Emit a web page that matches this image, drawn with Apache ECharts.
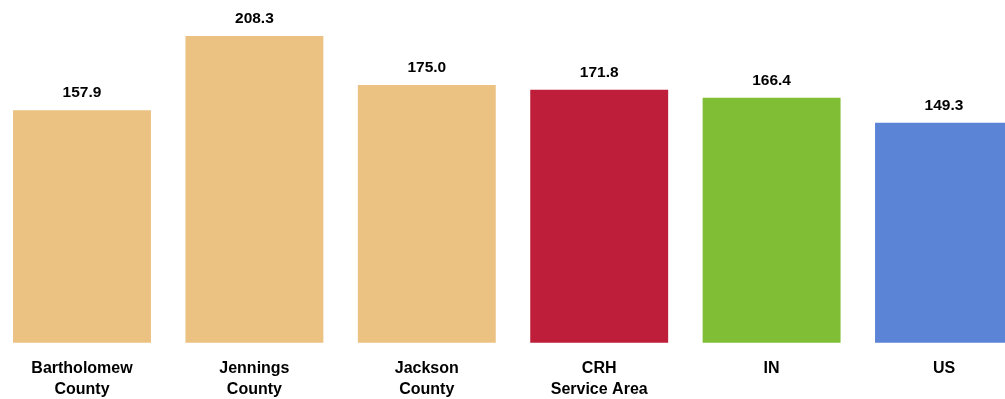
<!DOCTYPE html>
<html><head><meta charset="utf-8">
<script src="https://cdn.jsdelivr.net/npm/echarts@6/dist/echarts.min.js"></script>
<style>html,body{margin:0;padding:0;background:#fff}#c{width:1005px;height:399px}</style>
</head><body><div id="c"></div>
<script>
const categories = ["Bartholomew\nCounty", "Jennings\nCounty", "Jackson\nCounty", "CRH\nService Area", "IN", "US"];
const values = [157.9, 208.3, 175.0, 171.8, 166.4, 149.3];
const barColors = ["#ECC283", "#ECC283", "#ECC283", "#BE1E3A", "#80BE35", "#5B84D6"];
const FONT = "'Liberation Sans Narrow', 'Arial Narrow', 'Liberation Sans', Arial, sans-serif";
const chart = echarts.init(document.getElementById('c'));
chart.setOption({
  animation: false,
  grid: { left: -4.2, width: 1034.4, top: 36, bottom: 56.3, containLabel: false, outerBoundsMode: 'none' },
  xAxis: {
    type: 'category', data: categories,
    axisLine: { show: false }, axisTick: { show: false },
    axisLabel: { interval: 0, margin: 15, color: '#000', fontFamily: FONT, fontWeight: 'bold', fontSize: 16, lineHeight: 21 }
  },
  yAxis: { type: 'value', min: 0, max: Math.max(...values), show: false, splitLine: { show: false } },
  series: [{
    type: 'bar', barCategoryGap: '20%',
    data: values.map((v, i) => ({ value: v, itemStyle: { color: barColors[i] } })),
    label: { show: true, position: 'top', distance: 9, color: '#000', fontFamily: FONT, fontWeight: 'bold', fontSize: 15.5,
      formatter: p => p.value.toFixed(1) }
  }]
});
</script></body></html>
